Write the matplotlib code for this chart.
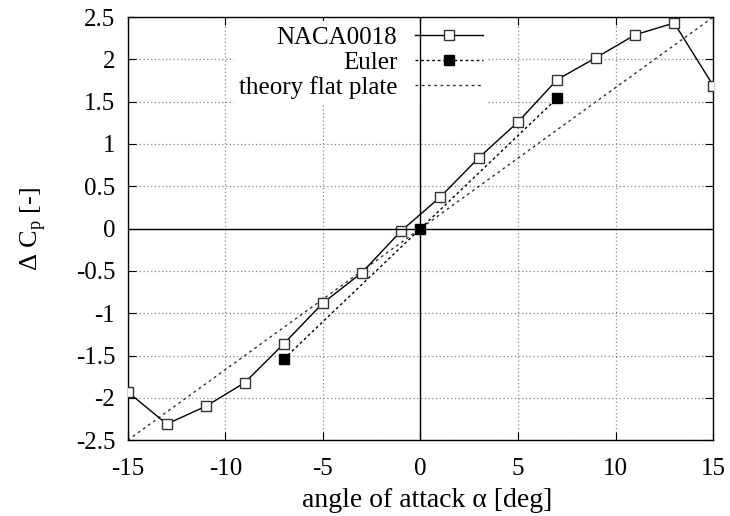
import matplotlib
matplotlib.use('Agg')
import matplotlib.pyplot as plt

plt.rcParams['font.family'] = ['Liberation Serif', 'DejaVu Serif']
plt.rcParams['mathtext.fontset'] = 'custom'
plt.rcParams['mathtext.rm'] = 'Liberation Serif'

# NACA0018 measured
naca_alpha = [-15, -13, -11, -9, -7, -5, -3, -1, 1, 3, 5, 7, 9, 11, 13, 15]
naca_dcp = [-1.93, -2.31, -2.10, -1.82, -1.36, -0.88, -0.52, -0.03,
            0.37, 0.84, 1.26, 1.76, 2.02, 2.29, 2.43, 1.69]

# Euler computation
euler_alpha = [-7, 0, 7]
euler_dcp = [-1.54, 0.0, 1.54]

# theory flat plate
theory_alpha = [-15, 15]
theory_dcp = [-2.5, 2.5]

xticks = [-15, -10, -5, 0, 5, 10, 15]
yticks = [-2.5, -2, -1.5, -1, -0.5, 0, 0.5, 1, 1.5, 2, 2.5]

fig = plt.figure(figsize=(7.3, 5.16), dpi=100)
ax = fig.add_axes([0.175, 0.147, 0.802, 0.820])

ax.plot(naca_alpha, naca_dcp, color='black', lw=1.0, marker='s',
        markersize=7, markerfacecolor='white', markeredgecolor='#333333',
        markeredgewidth=1.0, label='NACA0018', zorder=3)
ax.plot(euler_alpha, euler_dcp, color='black', lw=1.0, ls=(0, (2, 2)),
        marker='s', markersize=7, markerfacecolor='black',
        markeredgecolor='black', label='Euler', zorder=3)
ax.plot(theory_alpha, theory_dcp, color='#333333', lw=1.0, ls=(0, (2, 2.5)),
        label='theory flat plate', zorder=2)

# zero axes
ax.axhline(0, color='black', lw=1.0, zorder=6)
ax.axvline(0, color='black', lw=1.0, zorder=6)

ax.set_xlim(-15, 15)
ax.set_ylim(-2.5, 2.5)
ax.set_xticks(xticks)
ax.set_yticks(yticks)
ax.set_xticklabels([str(t) for t in xticks])
ax.set_yticklabels(['%g' % t for t in yticks])
ax.tick_params(direction='in', top=True, right=True, length=6,
               labelsize=18, pad=9)
ax.tick_params(axis='x', pad=13)
ax.grid(True, color='#888888', ls=(0, (1, 2)), lw=0.9)
for s in ax.spines.values():
    s.set_linewidth(1.0)

ax.set_xlabel('angle of attack α [deg]', fontsize=20)
ax.xaxis.set_label_coords(0.512, -0.142, transform=ax.transAxes)
ax.xaxis.label.set_va('center')
ax.set_ylabel(r'Δ C$_\mathrm{p}$ [-]', fontsize=19, labelpad=20)

leg = ax.legend(loc='upper right', bbox_to_anchor=(0.615, 0.99),
                markerfirst=False, frameon=True, fontsize=18,
                handlelength=2.7, handletextpad=0.72, borderpad=0.2,
                borderaxespad=0.0, labelspacing=0.1, fancybox=False)
leg.get_frame().set_edgecolor('none')
leg.get_frame().set_facecolor('white')
leg.get_frame().set_alpha(1.0)
for t in leg.get_texts():
    t.set_ha('right')
leg._legend_box.align = 'right'

fig.savefig('out.png', dpi=100)
